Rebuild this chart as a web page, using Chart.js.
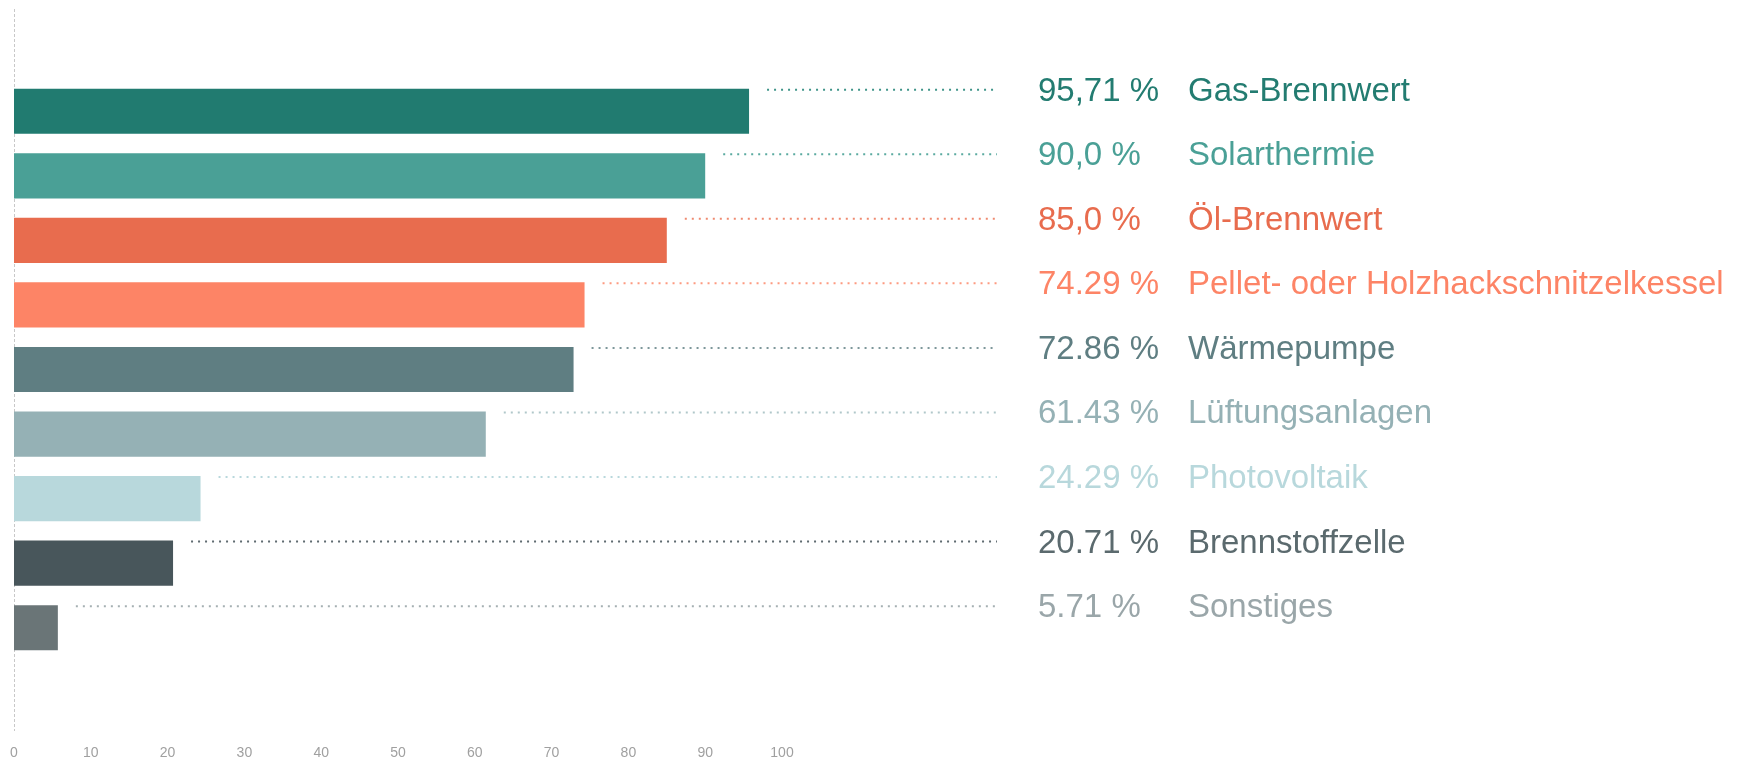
<!DOCTYPE html>
<html>
<head>
<meta charset="utf-8">
<script src="https://cdn.jsdelivr.net/npm/chart.js@4/dist/chart.umd.min.js"></script>
<style>
  html, body { margin: 0; padding: 0; background: #fff; }
  #chartCanvas { display: block; }
</style>
</head>
<body>
<canvas id="chartCanvas" width="1738" height="760"></canvas>
<script>
// values
const categories = ["Gas-Brennwert", "Solarthermie", "Öl-Brennwert", "Pellet- oder Holzhackschnitzelkessel",
    "Wärmepumpe", "Lüftungsanlagen", "Photovoltaik", "Brennstoffzelle", "Sonstiges"];
const shares = [95.71, 90.0, 85.0, 74.29, 72.86, 61.43, 24.29, 20.71, 5.71];
const shareLabels = ["95,71 %", "90,0 %", "85,0 %", "74.29 %", "72.86 %", "61.43 %", "24.29 %", "20.71 %", "5.71 %"];
const xTickValues = [0, 10, 20, 30, 40, 50, 60, 70, 80, 90, 100];

const barColors = ["#217b70", "#4aa096", "#e86c4e", "#fd8466", "#5f7e82", "#95b1b5", "#b8d8dc", "#48565b", "#6a7577"];
const textColors = ["#237c71", "#4aa096", "#e86c4e", "#fd8466", "#5f7e82", "#95b1b5", "#b8d8dc", "#5b6a6e", "#9aa6a9"];
const dotColors = ["#3f9489", "#5aaaa0", "#ef8a70", "#fd9a80", "#7d979a", "#b0c7ca", "#b8d8dc", "#5f6b70", "#a5b0b2"];

const chartCanvas = document.getElementById("chartCanvas");
const FONT = "'Liberation Sans', Arial, sans-serif";

// dashed zero line running from the top almost down to the tick labels
const zeroLine = {
    id: "zeroLine",
    beforeDatasetsDraw(chart) {
        const ctx = chart.ctx;
        const x = Math.round(chart.scales.x.getPixelForValue(0)) + 0.5;
        ctx.save();
        ctx.strokeStyle = "#c8c8c8";
        ctx.lineWidth = 1;
        ctx.setLineDash([3, 2]);
        ctx.beginPath();
        ctx.moveTo(x, 9);
        ctx.lineTo(x, chart.scales.x.top + 71);
        ctx.stroke();
        ctx.restore();
    }
};

// dotted leaders plus value and name on the right
const rowLabels = {
    id: "rowLabels",
    afterDatasetsDraw(chart) {
        const ctx = chart.ctx;
        const right = chart.chartArea.right;
        const bars = chart.getDatasetMeta(0).data;
        ctx.save();
        bars.forEach((bar, i) => {
            const top = bar.y - bar.height / 2;
            const dotY = top + 1;
            ctx.strokeStyle = dotColors[i];
            ctx.lineWidth = 2;
            ctx.setLineDash([2, 5]);
            ctx.beginPath();
            ctx.moveTo(bar.x + 18, dotY);
            ctx.lineTo(right + 215, dotY);
            ctx.stroke();

            ctx.setLineDash([]);
            ctx.fillStyle = textColors[i];
            ctx.font = "33px " + FONT;
            ctx.textBaseline = "alphabetic";
            ctx.textAlign = "left";
            ctx.fillText(shareLabels[i], right + 256, top + 12);
            ctx.fillText(categories[i], right + 406, top + 12);
        });
        ctx.restore();
    }
};

new Chart(chartCanvas, {
    type: "bar",
    data: {
        labels: categories,
        datasets: [{
            data: shares,
            backgroundColor: barColors,
            borderWidth: 0,
            categoryPercentage: 1,
            barPercentage: 0.7
        }]
    },
    options: {
        indexAxis: "y",
        responsive: false,
        animation: false,
        layout: {
            padding: { left: 14, right: 956, top: 79, bottom: 0 }
        },
        plugins: {
            legend: { display: false },
            tooltip: { enabled: false }
        },
        scales: {
            x: {
                min: 0,
                max: 100,
                afterBuildTicks: scale => {
                    scale.ticks = xTickValues.map(v => ({ value: v }));
                },
                // tick padding pushes the labels far down; keep it out of the box sizes
                afterFit: scale => {
                    scale.height = 100;
                    scale.paddingLeft = 0;
                    scale.paddingRight = 0;
                },
                border: { display: false },
                grid: { display: false, drawTicks: false },
                ticks: {
                    padding: 85,
                    color: "#a0a0a0",
                    font: { family: FONT, size: 14 },
                    maxRotation: 0
                }
            },
            y: {
                display: false
            }
        }
    },
    plugins: [zeroLine, rowLabels]
});
</script>
</body>
</html>
